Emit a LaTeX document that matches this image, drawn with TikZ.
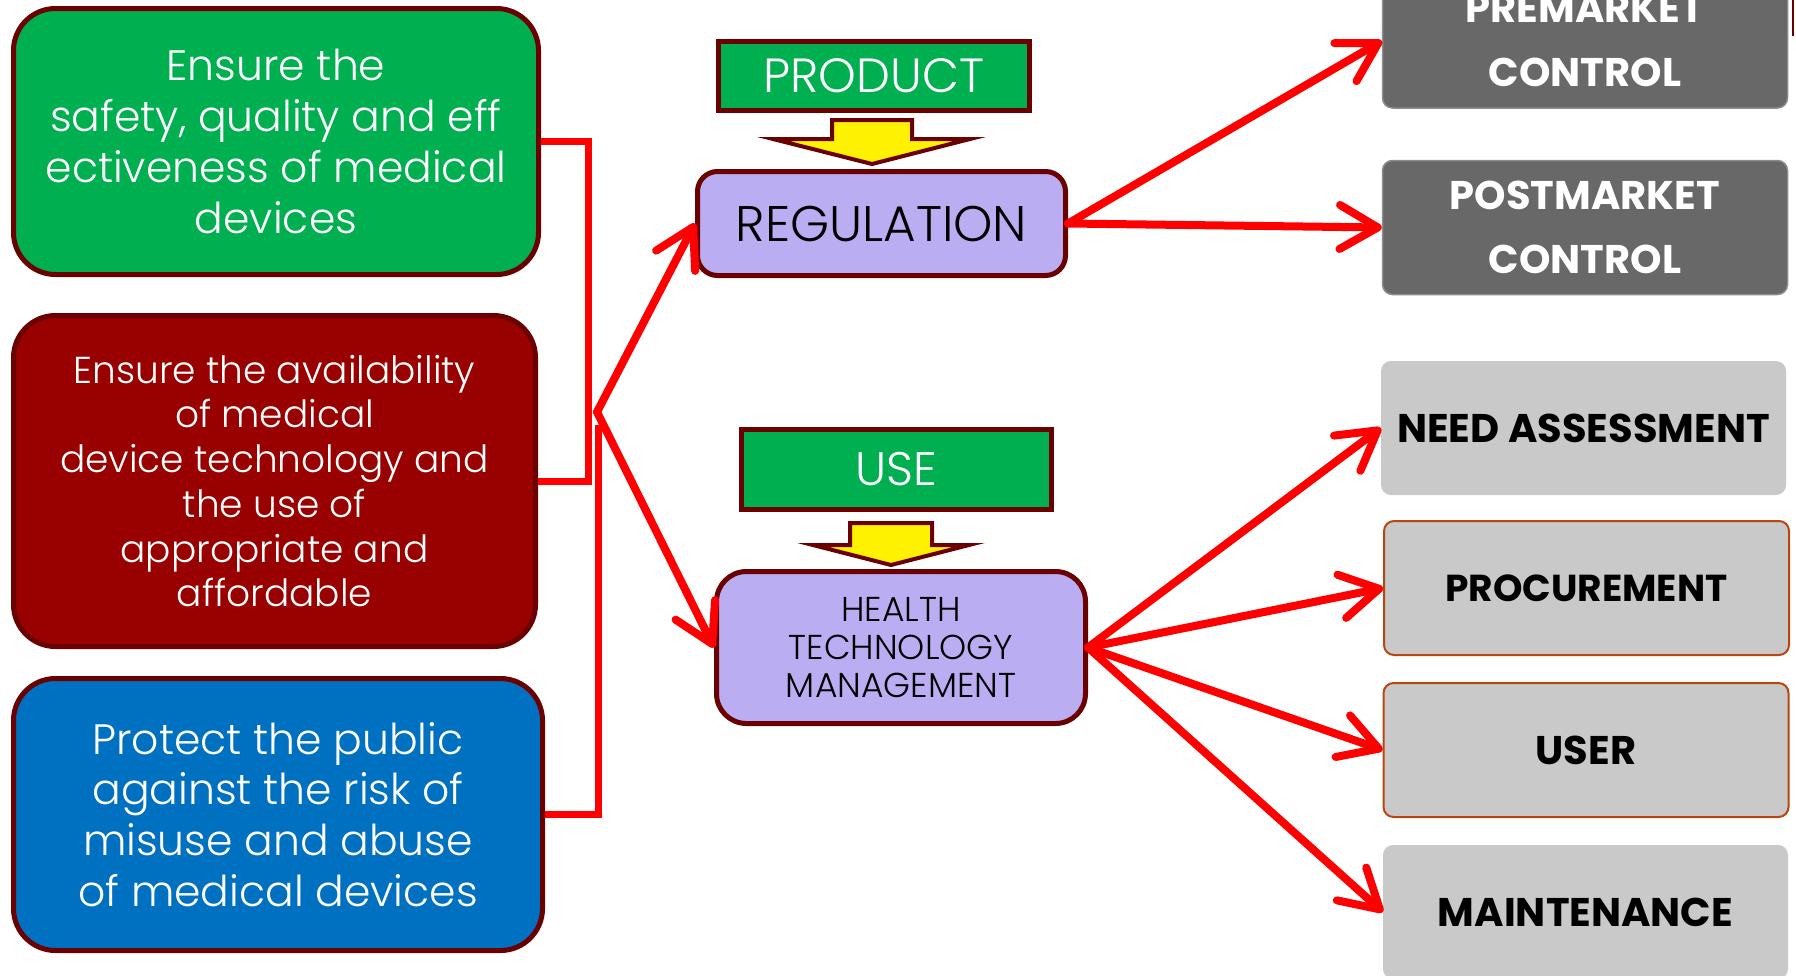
\documentclass[tikz,border=0pt]{standalone}
\usepackage{fontspec}
\setmainfont{Poppins}
\newfontfamily\lightface{Poppins Light}
\newfontfamily\heavyface{Poppins Bold}
\usetikzlibrary{arrows.meta}

\definecolor{boxgreen}{HTML}{00AF50}
\definecolor{boxred}{HTML}{990000}
\definecolor{boxblue}{HTML}{0070C0}
\definecolor{rim}{HTML}{6B0000}
\definecolor{lilac}{HTML}{BAADF2}
\definecolor{slate}{HTML}{686868}
\definecolor{slaterim}{HTML}{8C8C8C}
\definecolor{mist}{HTML}{C9C9C9}
\definecolor{rust}{HTML}{B8460E}
\definecolor{linkred}{HTML}{FF0000}

\tikzset{
  goal/.style={draw=rim, line width=5pt, rounded corners=42pt, text=white,
    align=center, inner sep=0pt, font=\lightface\fontsize{42.5}{50.8}\selectfont},
  tagbox/.style={draw=rim, line width=5pt, fill=boxgreen, text=white, inner sep=0pt,
    font=\lightface\fontsize{48}{50}\selectfont, minimum width=311pt},
  core/.style={draw=rim, line width=5pt, fill=lilac, align=center, inner sep=0pt},
  outcome/.style={rounded corners=10pt, minimum width=405pt, minimum height=134pt,
    inner sep=0pt, align=center, font=\heavyface\fontsize{40}{64}\selectfont},
  darkout/.style={outcome, fill=slate, draw=slaterim, line width=1.5pt, text=white},
  lightout/.style={outcome, fill=mist, text=black},
  link/.style={draw=linkred, line width=8pt, line cap=round,
    -{Straight Barb[length=38pt, width=44pt, line cap=round, line join=round]}},
  bracket/.style={draw=linkred, line width=7pt},
  blockarrow/.style={fill=yellow, draw=rim, line width=4pt, line join=miter},
}

\begin{document}
\begin{tikzpicture}[x=1pt, y=-1pt]
\useasboundingbox (0,0) rectangle (1796,975);
\clip (0,0) rectangle (1796,975);

% goals on the left
\node[goal, fill=boxgreen, minimum width=525pt, minimum height=266pt] (safety) at (276,141.5)
  {Ensure the\\safety, quality and eff\\ectiveness of medical\\devices};
\node[goal, fill=boxred, minimum width=522pt, minimum height=331pt,
      font=\lightface\fontsize{37.5}{44.7}\selectfont] (access) at (274.5,481)
  {Ensure the availability\\of medical\\device technology and\\the use of\\appropriate and\\affordable};
\node[goal, fill=boxblue, minimum width=529pt, minimum height=272pt] (protect) at (278,814.5)
  {Protect the public\\against the risk of\\misuse and abuse\\of medical devices};

% bracket gathering the goals
\coordinate (hub) at (597,412);
\coordinate (railA) at (588,0);
\coordinate (railB) at (598,425);
\draw[bracket] (safety.east) -| (railA |- access.east) -- (access.east);
\draw[bracket] (protect.east) -| (railB);

% middle column
\node[tagbox, minimum height=69pt] (product) at (874,76) {PRODUCT};
\node[core, rounded corners=20pt, minimum width=368pt, minimum height=104pt,
      font=\lightface\fontsize{50}{52}\selectfont] (regulation) at (881.5,223.5) {REGULATION};
\node[tagbox, minimum height=80pt, minimum width=310pt, font=\lightface\fontsize{47}{50}\selectfont]
  (use) at (896.5,469) {USE};
\node[core, rounded corners=30pt, minimum width=369pt, minimum height=152pt,
      font=\lightface\fontsize{34.5}{38.4}\selectfont] (htm) at (901,647.5)
  {HEALTH\\TECHNOLOGY\\MANAGEMENT};

% yellow block arrows
\draw[blockarrow] (832,120) -- (912,120) -- (912,139) -- (970,139) -- (872,164)
  -- (773,139) -- (832,139) -- cycle;
\draw[blockarrow] (850,523) -- (932,523) -- (932,545) -- (969,545) -- (891,565)
  -- (813,545) -- (850,545) -- cycle;

% outcomes on the right
\node[darkout] (premarket) at (1585,41) {PREMARKET\\CONTROL};
\node[darkout] (postmarket) at (1585,227.5) {POSTMARKET\\CONTROL};
\node[lightout] (need) at (1583.5,428) {NEED ASSESSMENT};
\node[lightout, draw=rust, line width=2pt, font=\heavyface\fontsize{37.5}{64}\selectfont]
  (procure) at (1586.5,588) {PROCUREMENT};
\node[lightout, draw=rust, line width=2pt] (user) at (1586,750) {USER};
\node[lightout] (maint) at (1585.5,912) {MAINTENANCE};

% edge of a neighbouring shape
\draw[rim, line width=2.5pt] (1793,0) -- (1793,36);

% arrows
\draw[link] (hub) -- (regulation.west);
\draw[link] (hub) -- (htm.west);
\draw[link] (regulation.east) -- (premarket.west);
\draw[link] (regulation.east) -- (postmarket.west);
\draw[link] (htm.east) -- (need.west);
\draw[link] (htm.east) -- (procure.west);
\draw[link] (htm.east) -- (user.west);
\draw[link] (htm.east) -- (maint.west);
\end{tikzpicture}
\end{document}
